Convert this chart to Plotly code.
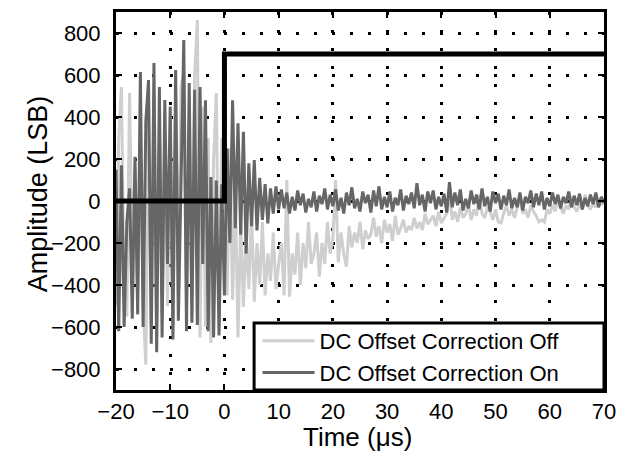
import numpy as np
import plotly.graph_objects as go

# time axis (microseconds), 0.5 us sampling
time_us = np.arange(-20.0, 70.01, 0.5)

# DC offset correction OFF (light trace)
off_pre = [-500, 300, 543, -450, -550, 514, -300, 150, -450, 400,
           -500, -780, 450, -600, 500, -650, 350, -550, 300, -500,
           400, -600, 500, -450, 550, 600, -500, 420, -550, 600,
           862, -650, 450, -600, 300, -676, 200, 514, -600, 300]
off_early = [150, -450, 250, -470, 50, -650, -100, -505, -150, -420, -50,
             -480, -200, -400, -100, -450, -250, -380, -150, -420, -300]
off_late = [-200, -450, 100, -456, -250, -350, -150, -400, -200, -320,
            -100, -300, -250, -150, -360, -200, -300, -100, -250, -180,
            100, -292, -150, -250, -313, -120, -220, -150, -200, -100,
            -230, -140, -180, -160, -80, -170, -120, -200, -90, -150,
            -110, -190, -70, -160, -130, -90, -150, -120, -138, -80,
            -130, -100, -138, -60, -110, -90, -70, -120, -50, -105,
            -80, -60, 40, -90, -50, -100, -30, -80, -60, -20,
            -90, -40, -70, 30, -60, -80, -30, -50, -90, -40,
            -100, -105, -60, -20, -70, -40, -80, -30, 20, -60,
            -40, -80, -20, -50, -70, -100, -90, -100, -40, -60,
            -20, -50, 10, -30, -60, -20, -40, 20, -30, -50,
            -10, -40, 30, -20, -40, -10, -30, 10, -20, 0]

# DC offset correction ON (dark trace)
on_pre = [150, -620, 170, -600, -100, 60, -560, 210, -540, 614,
          -600, 380, 576, -680, 657, -720, 543, -650, 481, -300,
          450, -660, 624, -570, 100, 767, -620, 562, -580, 530,
          -590, 543, -300, 480, -620, 114, -650, 97, -640, 80]
on_early = [-450, 250, -200, 480, -130, 370, -160, 330, -250, 180, -120,
            195, -140, 110, -90, 80, -107, 60, -60, 70, -40]
on_late = [55, -35, 40, -60, 20, -45, 50, -20, 35, -55,
           10, -30, 45, -50, 25, -15, 60, -40, 30, -25,
           55, -45, 15, -60, 40, -20, 65, -35, 10, -50,
           45, -10, 30, -55, 50, -25, 70, -40, 20, -30,
           45, -50, 15, -20, 55, -45, 25, -15, 40, -35,
           85, -20, 30, -50, 45, -10, 50, -40, 20, -25,
           35, -55, 90, -30, 40, -20, 55, -45, 10, -35,
           50, -15, 30, -40, 60, -25, 20, -50, 45, -10,
           35, -40, 25, -20, 55, -35, 15, -30, 40, -45,
           20, -10, 50, -30, 35, -20, 45, -40, 15, -25,
           40, -15, 30, -35, 20, -10, 45, -30, 25, -20,
           35, -40, 15, -25, 30, -15, 40, -30, 20, -10]

# trigger step
step_time = [-20, 0, 0, 70]
step_level = [0, 0, 700, 700]

x_ticks = [-20, -10, 0, 10, 20, 30, 40, 50, 60, 70]
y_ticks = [-800, -600, -400, -200, 0, 200, 400, 600, 800]

x_title = "Time (μs)"
y_title = "Amplitude (LSB)"

off_vals = off_pre + off_early + off_late
on_vals = on_pre + on_early + on_late

FONT = "Liberation Sans, Arial, Helvetica, sans-serif"

fig = go.Figure()
fig.add_trace(go.Scatter(x=time_us, y=off_vals, mode="lines",
                         line=dict(color="#cfcfcf", width=3),
                         name="DC Offset Correction Off"))
fig.add_trace(go.Scatter(x=time_us, y=on_vals, mode="lines",
                         line=dict(color="#666666", width=3),
                         name="DC Offset Correction On"))
fig.add_trace(go.Scatter(x=step_time, y=step_level, mode="lines",
                         line=dict(color="black", width=5),
                         showlegend=False, hoverinfo="skip"))

axis_common = dict(
    showgrid=True, gridcolor="black", gridwidth=2.5, griddash="3px,15px",
    zeroline=False, showline=True, linecolor="black", linewidth=3,
    mirror="ticks", ticks="inside", ticklen=6, tickwidth=2, tickcolor="black",
    tickfont=dict(size=22, color="black", family=FONT),
    automargin=False,
)

# legend frame (drawn above the traces, legend text sits on it)
fig.add_shape(type="rect", xref="x domain", yref="y domain",
              x0=0.283, x1=1.0, y0=0.0, y1=0.177,
              fillcolor="white", line=dict(color="black", width=3),
              layer="above")

# axis titles
fig.add_annotation(text=x_title, xref="paper", yref="paper", x=0.494, y=-0.124,
                   xanchor="center", yanchor="middle", showarrow=False,
                   font=dict(size=26, color="black", family=FONT))
fig.add_annotation(text=y_title, xref="paper", yref="paper", x=-0.158, y=0.52,
                   xanchor="center", yanchor="middle", showarrow=False,
                   textangle=-90,
                   font=dict(size=27, color="black", family=FONT))

fig.update_layout(
    width=623, height=452,
    margin=dict(l=116, r=19, t=12, b=62),
    paper_bgcolor="white", plot_bgcolor="white",
    font=dict(family=FONT, color="black"),
    xaxis=dict(range=[-20, 70], tickvals=x_ticks, ticklabelstandoff=0,
               **axis_common),
    yaxis=dict(range=[-900, 900], tickvals=y_ticks, ticklabelstandoff=8,
               **axis_common),
    legend=dict(x=0.29, xanchor="left", y=0.185, yanchor="top",
                bgcolor="rgba(0,0,0,0)", borderwidth=0,
                font=dict(size=22, color="black"), itemwidth=52,
                tracegroupgap=0),
    showlegend=True,
)

fig.write_html("out.html", config={"displayModeBar": False},
               post_script="document.body.style.margin='0';document.body.style.padding='0';")
